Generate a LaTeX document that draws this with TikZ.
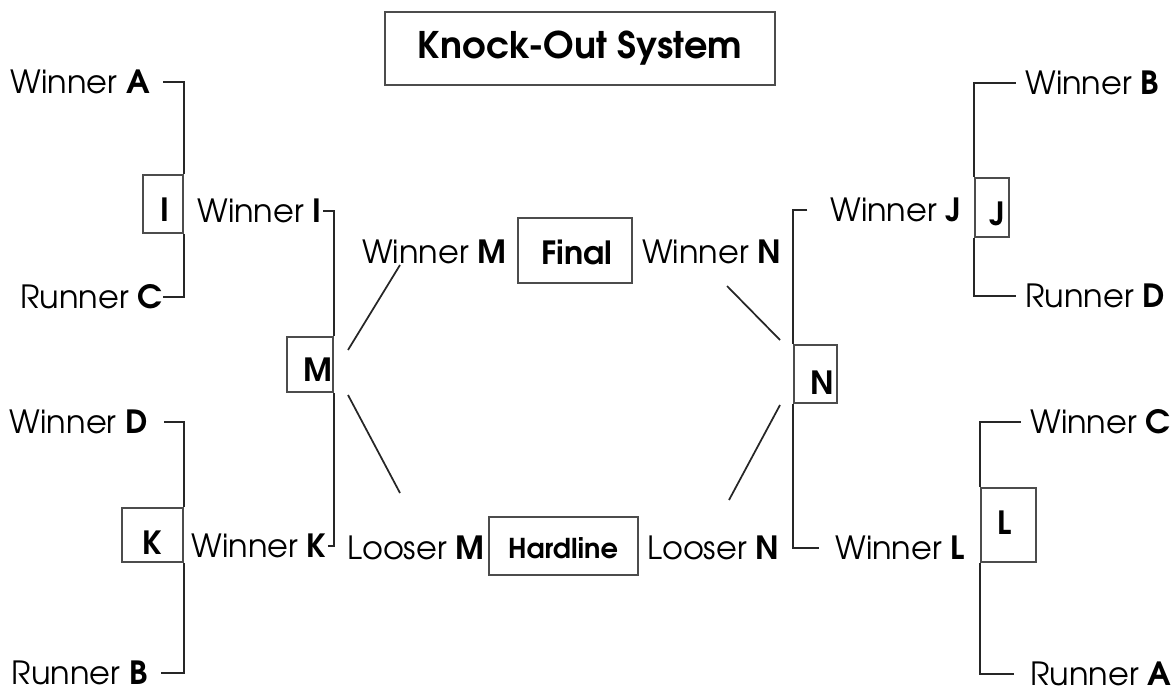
\documentclass[tikz,border=0pt]{standalone}
\usepackage{fontspec}
\setmainfont{texgyreadventor-regular.otf}[BoldFont=texgyreadventor-bold.otf]
\begin{document}
\begin{tikzpicture}[x=0.75pt,y=-0.75pt,
  txt/.style={inner sep=0pt,font=\fontsize{24}{28}\selectfont},
  boxlbl/.style={inner sep=0pt,font=\fontsize{24}{28}\selectfont\bfseries},
  mbox/.style={draw=black!70,line width=1pt,inner sep=0pt},
  ln/.style={draw=black!85,line width=1.3pt}]
\useasboundingbox (0,0) rectangle (1176,691);
% title
\node[mbox,minimum width=390*0.75pt,minimum height=73*0.75pt] (title) at (580,48.5) {};
\node[inner sep=0pt,font=\fontsize{27.5}{32}\selectfont\bfseries] (titletxt) at (580,48) {Knock-Out System};
% boxes
\node[mbox,minimum width=40*0.75pt,minimum height=58*0.75pt] (I) at (163,204) {};
\node[boxlbl] (Itxt) at (165,210) {I};
\node[mbox,minimum width=61*0.75pt,minimum height=54*0.75pt] (K) at (152.5,535) {};
\node[boxlbl] (Ktxt) at (152,543) {K};
\node[mbox,minimum width=46*0.75pt,minimum height=55*0.75pt] (M) at (310,364.5) {};
\node[boxlbl] (Mtxt) at (318,370) {M};
\node[mbox,minimum width=43*0.75pt,minimum height=58*0.75pt] (N) at (815.5,374) {};
\node[boxlbl] (Ntxt) at (822,383) {N};
\node[mbox,minimum width=34*0.75pt,minimum height=59*0.75pt] (J) at (992,207.5) {};
\node[boxlbl] (Jtxt) at (997,214) {J};
\node[mbox,minimum width=55*0.75pt,minimum height=74*0.75pt] (L) at (1008.5,525) {};
\node[boxlbl] (Ltxt) at (1005,523) {L};
\node[mbox,minimum width=114*0.75pt,minimum height=65*0.75pt] (F) at (575,250.5) {};
\node[boxlbl] (Ftxt) at (577,252) {Final};
\node[mbox,minimum width=149*0.75pt,minimum height=58*0.75pt] (H) at (563.5,546) {};
\node[inner sep=0pt,font=\fontsize{20.5}{24}\selectfont\bfseries] (Htxt) at (563,548) {Hardline};
% left texts
\node[txt,anchor=east] (WA) at (150,82) {Winner \textbf{A}};
\node[txt,anchor=east] (RC) at (163,297) {Runner \textbf{C}};
\node[txt,anchor=east] (WD) at (148,422) {Winner \textbf{D}};
\node[txt,anchor=east] (RB) at (148,673) {Runner \textbf{B}};
\node[txt,anchor=east] (WI) at (322,211) {Winner \textbf{I}};
\node[txt,anchor=east] (WK) at (327,546) {Winner \textbf{K}};
% centre texts
\node[txt,anchor=west] (WM) at (362,252) {Winner \textbf{M}};
\node[txt,anchor=west] (WN) at (642,252) {Winner \textbf{N}};
\node[txt,anchor=west] (LM) at (347,548) {Looser \textbf{M}};
\node[txt,anchor=west] (LN) at (647,548) {Looser \textbf{N}};
% right texts
\node[txt,anchor=west] (WJ) at (830,210) {Winner \textbf{J}};
\node[txt,anchor=west] (WL) at (835,548) {Winner \textbf{L}};
\node[txt,anchor=west] (WB) at (1025,83) {Winner \textbf{B}};
\node[txt,anchor=west] (RD) at (1025,296) {Runner \textbf{D}};
\node[txt,anchor=west] (WC) at (1030,422) {Winner \textbf{C}};
\node[txt,anchor=west] (RA) at (1030,674) {Runner \textbf{A}};
% brackets
\draw[ln] ([xshift=10]WA.east) -| (I.north east);
\draw[ln] (RC.east) -| (I.south east);
\draw[ln] ([xshift=12]WD.east) -| (K.north east);
\draw[ln] ([xshift=10]RB.east) -| (K.south east);
\draw[ln] ([xshift=1]WI.east) -| (M.north east);
\draw[ln] ([xshift=1]WK.east) -| (M.south east);
\draw[ln] ([xshift=-17]WJ.west) -| (N.north west);
\draw[ln] ([xshift=-12]WL.west) -| (N.south west);
\draw[ln] ([xshift=-7]WB.west) -| (J.north west);
\draw[ln] ([xshift=-7]RD.west) -| (J.south west);
\draw[ln] ([xshift=-7]WC.west) -| (L.north west);
\draw[ln] ([xshift=-12]RA.west) -| (L.south west);
% diagonals
\coordinate (m1) at (348,350);
\coordinate (m1e) at (400,265);
\coordinate (m2) at (348,395);
\coordinate (m2e) at (400,493);
\coordinate (n1) at (780,340);
\coordinate (n1e) at (727,286);
\coordinate (n2) at (780,405);
\coordinate (n2e) at (729,500);
\draw[ln] (m1) -- (m1e);
\draw[ln] (m2) -- (m2e);
\draw[ln] (n1) -- (n1e);
\draw[ln] (n2) -- (n2e);
\end{tikzpicture}
\end{document}
